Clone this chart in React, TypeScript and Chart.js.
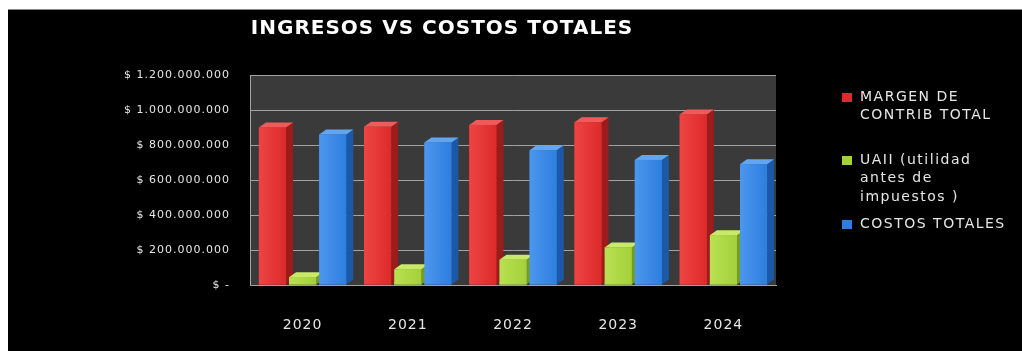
import { useEffect, useRef } from 'react';
import { Chart, registerables } from 'chart.js';

Chart.register(...registerables);

const TITLE = 'INGRESOS VS COSTOS TOTALES';
const YEARS = ['2020', '2021', '2022', '2023', '2024'];
const MARGEN = [900000000, 905000000, 915000000, 930000000, 975000000];
const UAII = [45000000, 90000000, 145000000, 215000000, 285000000];
const COSTOS = [860000000, 815000000, 770000000, 715000000, 690000000];
const SERIES_NAMES = ['MARGEN DE CONTRIB TOTAL', 'UAII (utilidad antes de impuestos )', 'COSTOS TOTALES'];
const LEGEND_LINES = [['MARGEN DE', 'CONTRIB TOTAL'], ['UAII (utilidad', 'antes de', 'impuestos )'], ['COSTOS TOTALES']];
const Y_MAX = 1200000000;
const Y_STEP = 200000000;

const FRONT = ['#dd2a2a', '#a4d13a', '#2d7edf'];
const LIGHT = ['#ee4444', '#b9e052', '#4c97ee'];
const SIDE = ['#9c1b1b', '#759c25', '#1b58a8'];
const TOPC = ['#f05a5a', '#c8ea6a', '#62a6f2'];
const TEXT = '#e6e6e6';
const GRID = '#a2a2a2';
const FONT = '"DejaVu Sans", Verdana, sans-serif';

const fmt = (v: number) =>
  v === 0 ? '$ -' : '$ ' + String(Math.round(v)).replace(/\B(?=(\d{3})+(?!\d))/g, '.');

const stylePlugin = {
  id: 'stylePlugin',
  beforeDraw(chart: any) {
    const { ctx, chartArea } = chart;
    ctx.letterSpacing = '1px';
    ctx.save();
    ctx.fillStyle = '#3a3a3a';
    ctx.fillRect(chartArea.left, chartArea.top, chartArea.right - chartArea.left, chartArea.bottom - chartArea.top);
    ctx.restore();
  },
  afterDatasetsDraw(chart: any) {
    const { ctx } = chart;
    const d = 7;
    const u = 5;
    const metas = [0, 1, 2].map((i) => chart.getDatasetMeta(i));
    ctx.save();
    for (let j = 0; j < YEARS.length; j++) {
      for (let i = 0; i < metas.length; i++) {
        const el: any = metas[i].data[j];
        if (!el) continue;
        const { x, y, base, width } = el.getProps(['x', 'y', 'base', 'width'], true);
        const l = x - width / 2;
        const r = x + width / 2;
        ctx.fillStyle = SIDE[i];
        ctx.beginPath();
        ctx.moveTo(r, y);
        ctx.lineTo(r + d, y - u);
        ctx.lineTo(r + d, base - u);
        ctx.lineTo(r, base);
        ctx.closePath();
        ctx.fill();
        ctx.fillStyle = TOPC[i];
        ctx.beginPath();
        ctx.moveTo(l, y);
        ctx.lineTo(l + d, y - u);
        ctx.lineTo(r + d, y - u);
        ctx.lineTo(r, y);
        ctx.closePath();
        ctx.fill();
        const g = ctx.createLinearGradient(l, 0, r, 0);
        g.addColorStop(0, LIGHT[i]);
        g.addColorStop(1, FRONT[i]);
        ctx.fillStyle = g;
        ctx.fillRect(l, y, width, base - y);
      }
    }
    ctx.restore();
  },
  afterDraw(chart: any) {
    const { ctx } = chart;
    const groupY = [87, 150, 214];
    const lh = 18.5;
    ctx.save();
    ctx.letterSpacing = '1.5px';
    ctx.font = '14px ' + FONT;
    ctx.textBaseline = 'middle';
    ctx.textAlign = 'left';
    LEGEND_LINES.forEach((lines, i) => {
      const y0 = groupY[i];
      ctx.fillStyle = FRONT[i];
      ctx.fillRect(834, y0 - 4, 10, 9);
      ctx.fillStyle = TEXT;
      lines.forEach((t, k) => ctx.fillText(t, 852, y0 + k * lh));
    });
    ctx.restore();
    ctx.letterSpacing = '0px';
  },
};

export default function App() {
  const ref = useRef<HTMLCanvasElement | null>(null);

  useEffect(() => {
    if (!ref.current) return;
    const chart = new Chart(ref.current, {
      type: 'bar',
      data: {
        labels: YEARS,
        datasets: [
          { label: SERIES_NAMES[0], data: MARGEN, backgroundColor: FRONT[0] },
          { label: SERIES_NAMES[1], data: UAII, backgroundColor: FRONT[1] },
          { label: SERIES_NAMES[2], data: COSTOS, backgroundColor: FRONT[2] },
        ],
      },
      options: {
        responsive: false,
        animation: false,
        events: [],
        datasets: { bar: { categoryPercentage: 0.86, barPercentage: 0.9 } },
        layout: { padding: { left: 100, right: 246, top: 0, bottom: 0 } },
        plugins: {
          legend: { display: false },
          tooltip: { enabled: false },
          title: {
            display: true,
            text: TITLE,
            color: '#ffffff',
            font: { family: FONT, size: 20, weight: 'bold', lineHeight: 1.1 },
            padding: { top: 8, bottom: 35 },
          },
        },
        scales: {
          x: {
            grid: { display: false },
            border: { color: GRID },
            ticks: { color: TEXT, font: { family: FONT, size: 14 }, padding: 24, autoSkip: false, maxRotation: 0 },
            afterFit: (s: any) => { s.height = 66; },
          },
          y: {
            min: 0,
            max: Y_MAX,
            grid: { color: GRID, drawTicks: false },
            border: { color: GRID },
            ticks: { stepSize: Y_STEP, color: TEXT, font: { family: FONT, size: 11 }, padding: 20, callback: (v: any) => fmt(Number(v)) },
            afterFit: (s: any) => { s.width = 142; },
          },
        },
      } as any,
      plugins: [stylePlugin],
    });
    return () => chart.destroy();
  }, []);

  return (
    <>
      <style>{`body{margin:0;background:#fff;}`}</style>
      <div style={{ position: 'absolute', left: 8, top: 9, width: 1014, height: 341, background: '#000', borderTop: '1px solid #8a8a8a' }}>
        <canvas ref={ref} width={1014} height={341} style={{ display: 'block' }} />
      </div>
    </>
  );
}
